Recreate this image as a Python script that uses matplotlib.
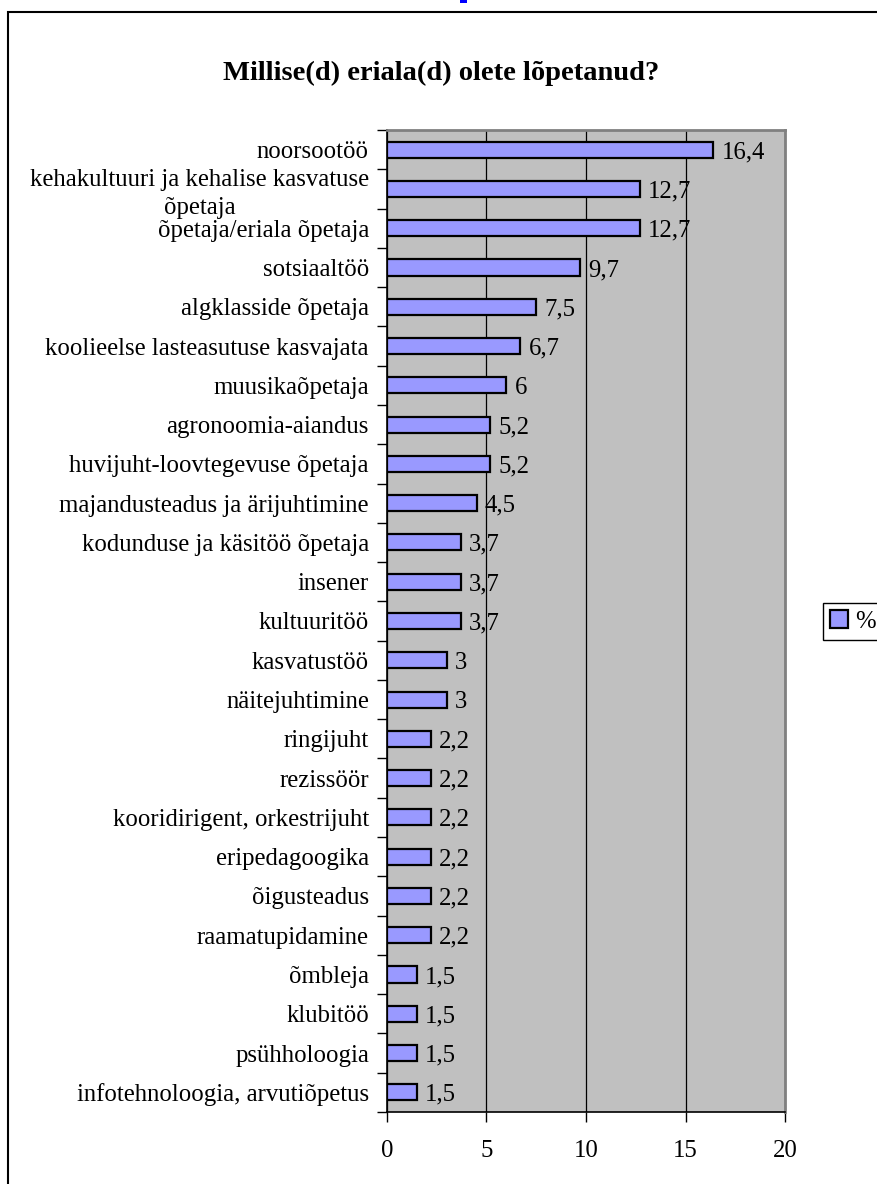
import numpy as np
import matplotlib
matplotlib.use("Agg")
import matplotlib.pyplot as plt
from matplotlib.patches import Rectangle

plt.rcParams['font.family'] = ['Liberation Serif', 'DejaVu Serif']

categories = [
    "noorsootöö",
    "kehakultuuri ja kehalise kasvatuse\nõpetaja",
    "õpetaja/eriala õpetaja",
    "sotsiaaltöö",
    "algklasside õpetaja",
    "koolieelse lasteasutuse kasvajata",
    "muusikaõpetaja",
    "agronoomia-aiandus",
    "huvijuht-loovtegevuse õpetaja",
    "majandusteadus ja ärijuhtimine",
    "kodunduse ja käsitöö õpetaja",
    "insener",
    "kultuuritöö",
    "kasvatustöö",
    "näitejuhtimine",
    "ringijuht",
    "rezissöör",
    "kooridirigent, orkestrijuht",
    "eripedagoogika",
    "õigusteadus",
    "raamatupidamine",
    "õmbleja",
    "klubitöö",
    "psühholoogia",
    "infotehnoloogia, arvutiõpetus",
]
values = [16.4, 12.7, 12.7, 9.7, 7.5, 6.7, 6, 5.2, 5.2, 4.5, 3.7, 3.7, 3.7,
          3, 3, 2.2, 2.2, 2.2, 2.2, 2.2, 2.2, 1.5, 1.5, 1.5, 1.5]
x_ticks = [0, 5, 10, 15, 20]
series_name = "%"
title = "Millise(d) eriala(d) olete lõpetanud?"

W, H = 878, 1184
fs = 17.8
fig = plt.figure(figsize=(W / 100, H / 100), dpi=100)
ax = fig.add_axes([387 / W, 72 / H, 398 / W, 982 / H])
ax.set_facecolor('#C0C0C0')

y = np.arange(len(categories))
bars = ax.barh(y, values, height=0.41, color='#9999FF', edgecolor='black',
               linewidth=1.6, label=series_name, zorder=3)
txts = ax.bar_label(bars, labels=[f"{v:g}".replace('.', ',') for v in values],
                    padding=6, fontsize=fs, zorder=4)
for t in txts:
    t.set_va('center_baseline')

ax.set_xlim(0, 20)
ax.set_ylim(len(categories) - 0.5, -0.5)
ax.set_xticks(x_ticks)
ax.set_xticklabels([str(t) for t in x_ticks], fontsize=fs)
ax.tick_params(axis='x', direction='out', length=7, width=1, pad=13)
ax.set_yticks(y)
ax.set_yticklabels(categories, fontsize=fs, linespacing=1.3,
                   multialignment='center')
ax.tick_params(axis='y', which='major', length=0, pad=13)
ax.set_yticks(np.arange(len(categories) + 1) - 0.5, minor=True)
ax.tick_params(axis='y', which='minor', direction='out', length=7, width=1)
ax.grid(axis='x', color='black', linewidth=0.9, zorder=1)

for side in ['top', 'right']:
    ax.spines[side].set_color('#808080')
    ax.spines[side].set_linewidth(2)
for side in ['left', 'bottom']:
    ax.spines[side].set_color('black')
    ax.spines[side].set_linewidth(1.2)

fig.text(441 / W, 1 - 73 / H, title, ha='center', va='center',
         fontsize=20.5, fontweight='bold')

leg = fig.legend(loc='upper left', bbox_to_anchor=(823 / W, 1 - 603 / H),
                 borderaxespad=0, fontsize=fs, handlelength=0.7,
                 handleheight=0.7, handletextpad=0.3, borderpad=0.3,
                 fancybox=False, edgecolor='black', framealpha=1)
leg.get_frame().set_linewidth(1)

# outer chart frame (runs off the right/bottom edge)
fig.patches.append(Rectangle((8 / W, -0.1), 1.2, 1.1 - 12 / H,
                             transform=fig.transFigure, fill=False,
                             edgecolor='black', linewidth=1.5))
# cut-off blue text fragment at the very top
fig.patches.append(Rectangle((460 / W, 1 - 3 / H), 7 / W, 3 / H,
                             transform=fig.transFigure, color='#0000FF',
                             linewidth=0))

fig.savefig('out.png', dpi=100)
